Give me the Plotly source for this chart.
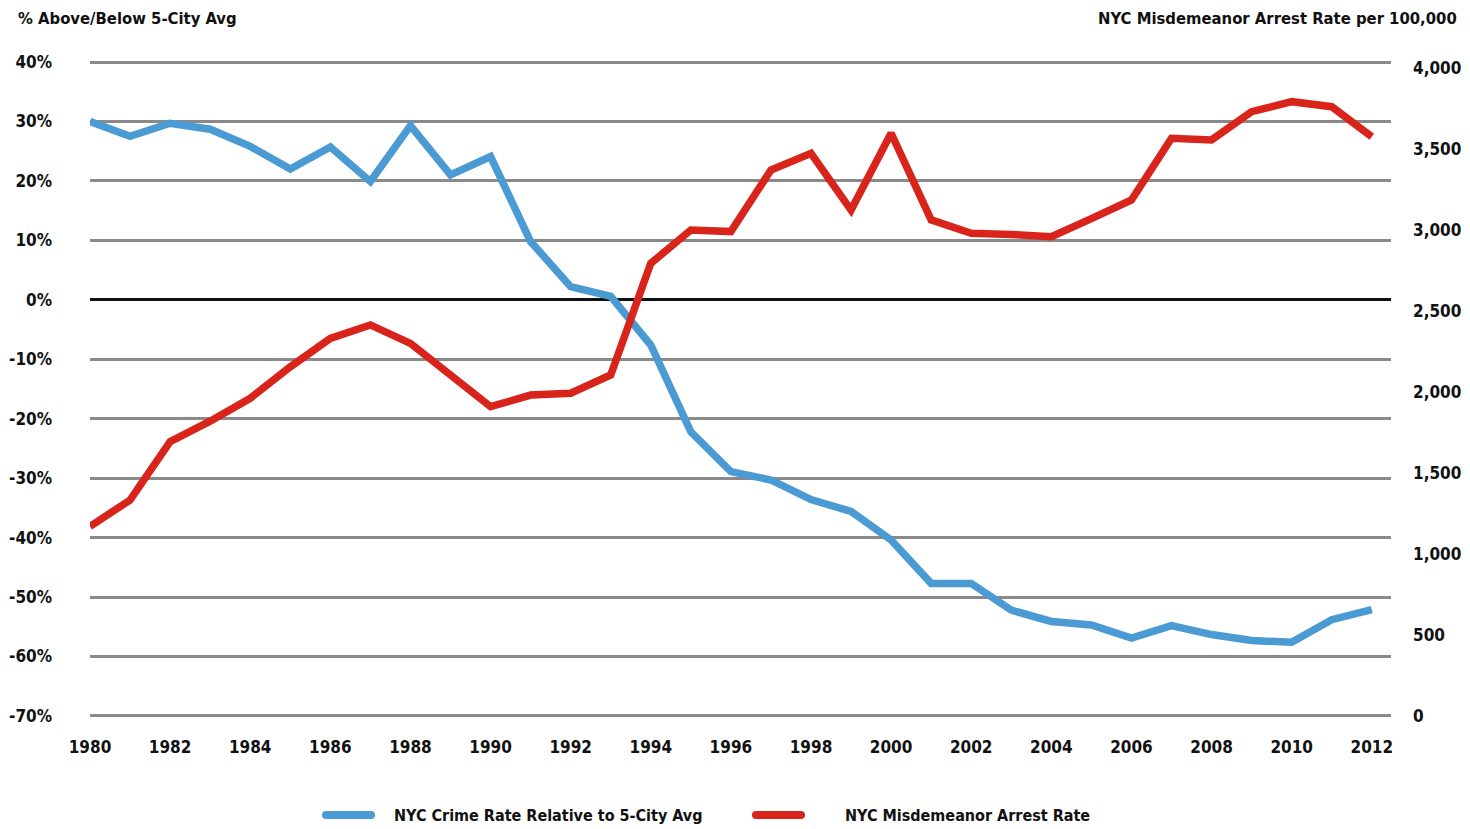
import plotly.graph_objects as go

years = list(range(1980, 2013))
crime_rel = [30.0, 27.5, 29.7, 28.7, 25.8, 22.0, 25.7, 19.9, 29.3, 21.0, 24.1,
             9.8, 2.2, 0.6, -7.6, -22.2, -28.9, -30.3, -33.6, -35.6, -40.4,
             -47.7, -47.7, -52.2, -54.1, -54.7, -56.9, -54.8, -56.3, -57.3, -57.6, -53.8, -52.1]
arrests = [1170, 1333, 1693, 1820, 1961, 2155, 2331, 2414, 2300, 2100, 1909,
           1981, 1992, 2105, 2794, 3000, 2990, 3370, 3473, 3123, 3597,
           3062, 2980, 2972, 2959, 3070, 3185, 3566, 3556, 3730, 3792, 3761, 3576]

left_ticks = [-70, -60, -50, -40, -30, -20, -10, 0, 10, 20, 30, 40]
left_text = ["-70%", "-60%", "-50%", "-40%", "-30%", "-20%", "-10%", "0%", "10%", "20%", "30%", "40%"]
right_ticks = [0, 500, 1000, 1500, 2000, 2500, 3000, 3500, 4000]
right_text = ["0", "500", "1,000", "1,500", "2,000", "2,500", "3,000", "3,500", "4,000"]
x_ticks = list(range(1980, 2013, 2))

name_crime = "NYC Crime Rate Relative to 5-City Avg"
name_arrest = "NYC Misdemeanor Arrest Rate"
title_left = "% Above/Below 5-City Avg"
title_right = "NYC Misdemeanor Arrest Rate per 100,000"

BLUE = "#4A9AD3"
RED = "#D8241A"
TXT = "#111111"
FONT = "Liberation Sans Narrow, DejaVu Sans Condensed, sans-serif"


def fnt(size):
    return dict(family=FONT, size=size, color=TXT, weight="bold")


fig = go.Figure()
fig.add_trace(go.Scatter(x=years, y=crime_rel, mode="lines", name=name_crime,
                         line=dict(color=BLUE, width=7.5), yaxis="y"))
fig.add_trace(go.Scatter(x=years, y=arrests, mode="lines", name=name_arrest,
                         line=dict(color=RED, width=7.5), yaxis="y2"))

L, R, T, B = 90, 79, 61, 112
W, H = 1470, 829
pw = W - L - R
ph = H - T - B


def px(xp):
    return (xp - L) / pw


def py(yp):
    return (H - B - yp) / ph


fig.update_layout(
    width=W, height=H,
    margin=dict(l=L, r=R, t=T, b=B, pad=0, autoexpand=False),
    paper_bgcolor="white", plot_bgcolor="white",
    showlegend=False,
    font=fnt(17),
    xaxis=dict(range=[1980, 2012.48], tickvals=x_ticks, showgrid=False, zeroline=False,
               showline=False, ticks="", ticklabelstandoff=18, automargin=False,
               tickfont=fnt(17)),
    yaxis=dict(range=[-70.17, 40.17], tickvals=left_ticks, ticktext=left_text,
               showgrid=True, gridcolor="#8a8a8a", gridwidth=2.5,
               zeroline=True, zerolinecolor="#111111", zerolinewidth=3,
               showline=False, ticks="", ticklabelstandoff=37, automargin=False,
               tickfont=fnt(17)),
    yaxis2=dict(range=[-6.2, 4043], tickvals=right_ticks, ticktext=right_text,
                overlaying="y", side="right", showgrid=False, zeroline=False,
                showline=False, ticks="", ticklabelstandoff=21, automargin=False,
                tickfont=fnt(17)),
)

# axis titles
fig.add_annotation(text=title_left, xref="paper", yref="paper", x=px(16), y=py(18),
                   xanchor="left", yanchor="middle", showarrow=False, font=fnt(16.5))
fig.add_annotation(text=title_right, xref="paper", yref="paper", x=px(1459), y=py(18),
                   xanchor="right", yanchor="middle", showarrow=False, font=fnt(16.5))

# legend (manual)
ly = py(815)
for color, x0, x1, tx, name in [(BLUE, 322, 375, 392, name_crime), (RED, 752, 805, 843, name_arrest)]:
    fig.add_shape(type="rect", xref="paper", yref="paper",
                  xsizemode="pixel", ysizemode="pixel", xanchor=px(x0), yanchor=ly,
                  x0=4, x1=(x1 - x0) - 4, y0=-4, y1=4,
                  fillcolor=color, line=dict(width=0))
    for cx in (4, (x1 - x0) - 4):
        fig.add_shape(type="circle", xref="paper", yref="paper",
                      xsizemode="pixel", ysizemode="pixel", xanchor=px(x0), yanchor=ly,
                      x0=cx - 4, x1=cx + 4, y0=-4, y1=4,
                      fillcolor=color, line=dict(width=0))
    fig.add_annotation(text=name, xref="paper", yref="paper", x=px(tx), y=ly,
                       xanchor="left", yanchor="middle", showarrow=False, font=fnt(16))

fig.write_html("out.html", config={"displayModeBar": False},
               post_script="document.body.style.margin='0';")
